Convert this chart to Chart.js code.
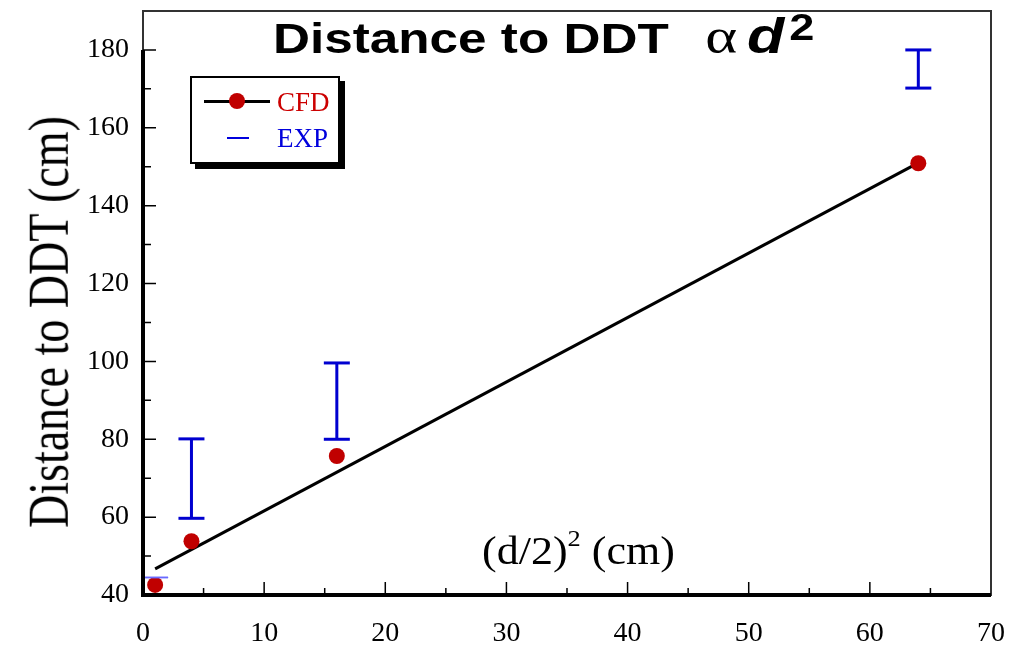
<!DOCTYPE html>
<html>
<head>
<meta charset="utf-8">
<script src="https://cdn.jsdelivr.net/npm/chart.js@4.4.1/dist/chart.umd.min.js"></script>
<style>
html, body { margin: 0; padding: 0; background: #fff; }
#wrap { position: relative; width: 1010px; height: 646px; }
#myChart { position: absolute; left: 0; top: 0; }
.ov { position: absolute; pointer-events: none; white-space: nowrap; }
#title { left: 273px; top: 7px; font: bold 42px "Liberation Sans", Arial, sans-serif; line-height: 1; transform: scaleX(1.22); transform-origin: left top; }
#title .alpha { font: 50px "Liberation Serif", serif; margin-left: 30px; }
#title .d { font-size: 50px; font-style: italic; margin-left: 8px; }
#title sup { font-size: 37px; vertical-align: 13px; line-height: 0; margin-left: 4px; }
#ytitle { left: 49px; top: 322px; font: 46px "Liberation Serif", serif; line-height: 1; transform: translate(-50%, -50%) rotate(-90deg) scale(1, 1.24); }
#xtitle { left: 482px; top: 531px; font: 40px "Liberation Serif", serif; line-height: 1; transform: scaleX(1.1); transform-origin: left top; }
#xtitle sup { font-size: 24px; vertical-align: 18px; line-height: 0; }
#legend { left: 190px; top: 76px; width: 146px; height: 84px; border: 2px solid #000; background: #fff; box-shadow: 5px 5px 0 #000; }
.lrow { position: absolute; left: 0; width: 146px; height: 30px; }
.lline { position: absolute; height: 3px; background: #000; }
.ldot { position: absolute; width: 16px; height: 16px; border-radius: 50%; background: #c00000; }
.ltext { position: absolute; left: 85px; font: 27px "Liberation Serif", serif; line-height: 30px; top: 0; }
</style>
</head>
<body>
<div id="wrap">
  <canvas id="myChart" width="1010" height="646"></canvas>
  <div class="ov" id="title">Distance to DDT<span class="alpha">α</span><span class="d">d</span><sup>2</sup></div>
  <div class="ov" id="ytitle">Distance to DDT (cm)</div>
  <div class="ov" id="xtitle">(d/2)<sup>2</sup> (cm)</div>
  <div class="ov" id="legend">
    <div class="lrow" style="top:9px">
      <div class="lline" style="left:12px; width:66px; top:13px"></div>
      <div class="ldot" style="left:37px; top:6px"></div>
      <div class="ltext" style="color:#cc0000">CFD</div>
    </div>
    <div class="lrow" style="top:45px">
      <div class="lline" style="left:35px; width:22px; top:14px; height:1.5px; background:#0000dd"></div>
      <div class="ltext" style="color:#0000dd">EXP</div>
    </div>
  </div>
</div>
<script>
// Values
const cfdX = [1, 4, 16, 64];
const cfdY = [42.6, 53.8, 75.7, 150.9];

const fitX = [1, 64];
const fitY = [46.7, 151.0];

const expX = [1, 4, 16, 64];
const expLow = [44.5, 59.7, 80.0, 170.2];
const expHigh = [44.5, 80.1, 99.6, 180.0];

const xTicks = [0, 10, 20, 30, 40, 50, 60, 70];
const yTicks = [40, 60, 80, 100, 120, 140, 160, 180];

const PLOT_TOP = 11;

// error bars as one broken line: low, high, gap
const expData = [];
expX.forEach((x, i) => {
    expData.push({ x: x, y: expLow[i] });
    expData.push({ x: x, y: expHigh[i] });
    expData.push({ x: x, y: null });
});

// pin the top of the plot box (chart.js keeps adding room for labels)
const pinTop = {
    id: 'pinTop',
    afterLayout(chart) {
        const a = chart.chartArea, ys = chart.scales.y;
        a.top = PLOT_TOP;
        a.height = a.bottom - a.top;
        ys.top = PLOT_TOP;
        ys.height = ys.bottom - ys.top;
        ys.configure();
    }
};

// frame + inward ticks
const framePlugin = {
    id: 'frame',
    afterDraw(chart) {
        const { ctx, chartArea: a, scales } = chart;
        const xs = scales.x, ys = scales.y;
        ctx.save();
        ctx.strokeStyle = '#333';
        ctx.lineWidth = 2;
        ctx.strokeRect(a.left, a.top, a.right - a.left, a.bottom - a.top);

        ctx.strokeStyle = '#000';
        ctx.lineWidth = 4;
        ctx.beginPath();
        ctx.moveTo(a.left, ys.getPixelForValue(yTicks[yTicks.length - 1]));
        ctx.lineTo(a.left, a.bottom);
        ctx.lineTo(a.right, a.bottom);
        ctx.stroke();

        ctx.lineWidth = 1.5;
        ctx.beginPath();
        for (let i = 0; i < xTicks.length - 1; i++) {
            const mid = xs.getPixelForValue((xTicks[i] + xTicks[i + 1]) / 2);
            ctx.moveTo(mid, a.bottom); ctx.lineTo(mid, a.bottom - 7);
            if (i > 0) {
                const px = xs.getPixelForValue(xTicks[i]);
                ctx.moveTo(px, a.bottom); ctx.lineTo(px, a.bottom - 13);
            }
        }
        for (let i = 0; i < yTicks.length - 1; i++) {
            const mid = ys.getPixelForValue((yTicks[i] + yTicks[i + 1]) / 2);
            ctx.moveTo(a.left, mid); ctx.lineTo(a.left + 8, mid);
            const py = ys.getPixelForValue(yTicks[i + 1]);
            ctx.moveTo(a.left, py); ctx.lineTo(a.left + 13, py);
        }
        ctx.stroke();
        ctx.restore();
    }
};

const noPad = s => { s.paddingTop = 0; s.paddingBottom = 0; s.paddingLeft = 0; s.paddingRight = 0; };

const ctx = document.getElementById("myChart").getContext("2d");
new Chart(ctx, {
    type: 'line',
    data: {
        datasets: [
            {
                label: 'EXP',
                data: expData,
                borderColor: '#0000d0',
                borderWidth: 3,
                pointStyle: 'line',
                pointRadius: 13,
                pointBorderWidth: c => (expLow[Math.floor(c.dataIndex / 3)] === expHigh[Math.floor(c.dataIndex / 3)] ? 1.5 : 3),
                pointBorderColor: c => (expLow[Math.floor(c.dataIndex / 3)] === expHigh[Math.floor(c.dataIndex / 3)] ? '#6a6aff' : '#0000d0'),
                spanGaps: false,
                clip: false,
                order: 1
            },
            {
                label: 'fit',
                data: fitX.map((x, i) => ({ x: x, y: fitY[i] })),
                borderColor: '#000',
                borderWidth: 3,
                pointRadius: 0,
                order: 3
            },
            {
                label: 'CFD',
                data: cfdX.map((x, i) => ({ x: x, y: cfdY[i] })),
                showLine: false,
                pointRadius: 8,
                pointBackgroundColor: '#c00000',
                pointBorderWidth: 0,
                clip: false,
                order: 2
            }
        ]
    },
    options: {
        responsive: false,
        animation: false,
        layout: { padding: { top: 11, right: 19, left: 0, bottom: 0 } },
        plugins: {
            legend: { display: false },
            tooltip: { enabled: false }
        },
        scales: {
            x: {
                type: 'linear',
                min: 0,
                max: 70,
                grid: { display: false, drawTicks: false },
                border: { display: false },
                afterBuildTicks: s => { s.ticks = xTicks.map(v => ({ value: v })); },
                afterFit: s => { s.height = 51; noPad(s); },
                ticks: {
                    color: '#000',
                    padding: 22,
                    maxRotation: 0,
                    font: { family: 'Liberation Serif', size: 28 }
                }
            },
            y: {
                type: 'linear',
                min: 40,
                max: 190,
                grid: { display: false, drawTicks: false },
                border: { display: false },
                afterBuildTicks: s => { s.ticks = yTicks.map(v => ({ value: v })); },
                afterFit: s => { s.width = 143; noPad(s); },
                ticks: {
                    color: '#000',
                    padding: 14,
                    font: { family: 'Liberation Serif', size: 28, lineHeight: 0.75 }
                }
            }
        }
    },
    plugins: [pinTop, framePlugin]
});
</script>
</body>
</html>
